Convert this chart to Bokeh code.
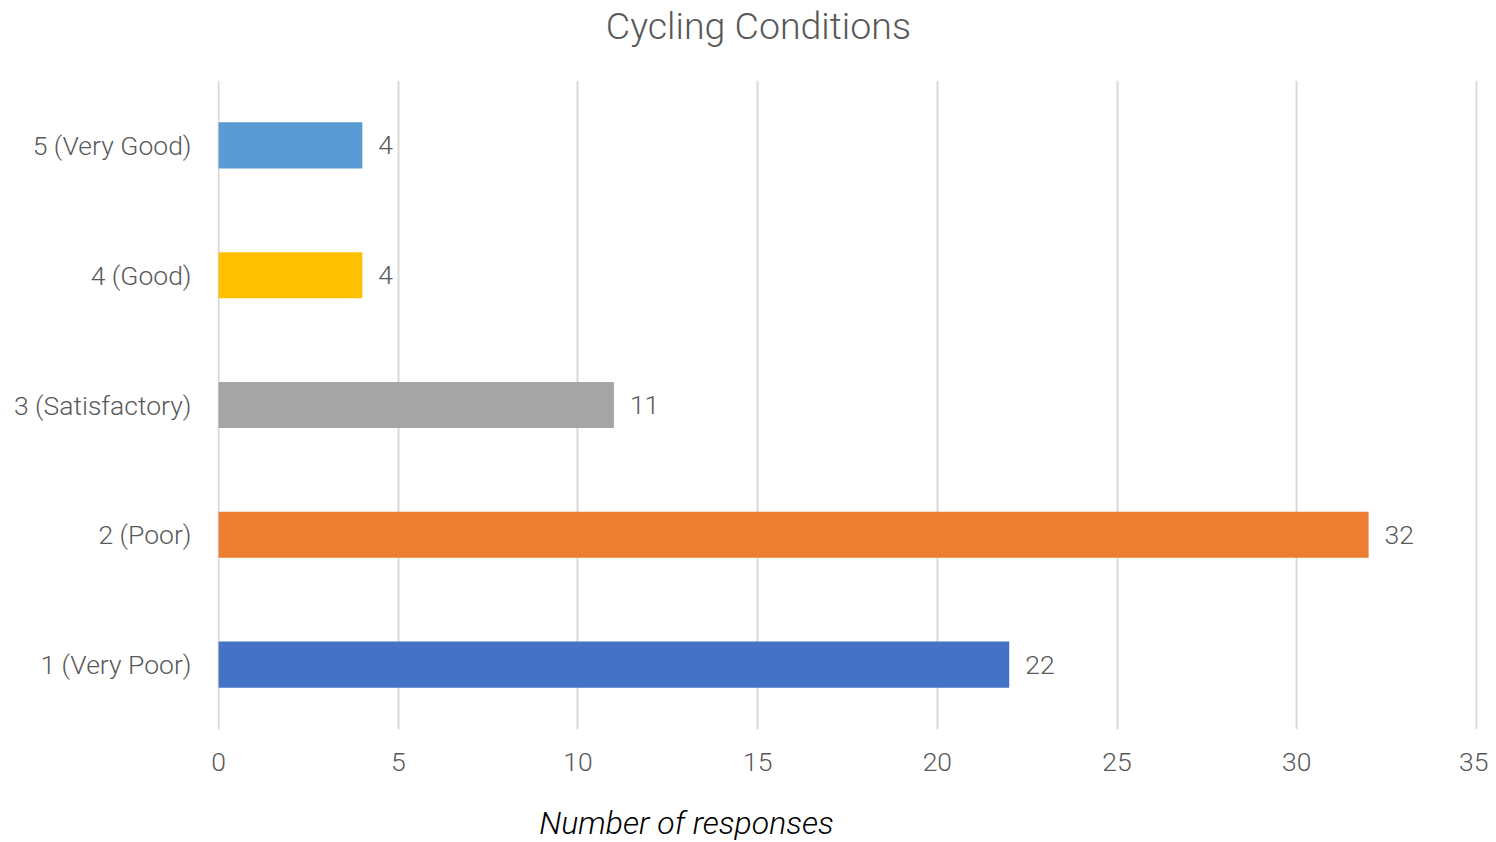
from bokeh.plotting import figure
from bokeh.layouts import column
from bokeh.models import ColumnDataSource, LabelSet, Label, Range1d, FactorRange
from bokeh.core.properties import value
from bokeh.embed import file_html
from bokeh.resources import INLINE

categories = ["1 (Very Poor)", "2 (Poor)", "3 (Satisfactory)", "4 (Good)", "5 (Very Good)"]
responses = [22, 32, 11, 4, 4]
colors = ["#4472C4", "#ED7D31", "#A5A5A5", "#FFC000", "#5B9BD5"]
x_ticks = [0, 5, 10, 15, 20, 25, 30, 35]
title_text = "Cycling Conditions"
x_label_text = "Number of responses"

FONT = "Roboto Light"
GREY = "#595959"
TICK_SIZE = "26.5px"
W = 1488
BL, BR = 217, 11

x_range = Range1d(-0.03, 35.03)

src = ColumnDataSource(dict(
    cat=categories,
    val=responses,
    color=colors,
    label=[str(v) for v in responses],
))


def text_strip(height):
    f = figure(x_range=x_range, y_range=Range1d(0, 1), width=W, height=height,
               output_backend="svg", toolbar_location=None,
               x_axis_type=None, y_axis_type=None,
               min_border_left=BL, min_border_right=BR,
               min_border_top=0, min_border_bottom=0)
    f.outline_line_color = None
    f.xgrid.visible = False
    f.ygrid.visible = False
    return f


# title strip
top = text_strip(80)
top.add_layout(Label(x=15.02, y=55, x_units="data", y_units="screen",
                     text=title_text, text_align="center", text_baseline="middle",
                     text_font=FONT, text_font_size="37.5px", text_color=GREY))

# main chart
p = figure(
    y_range=FactorRange(*categories, range_padding=0),
    x_range=x_range,
    width=W, height=709,
    output_backend="svg", toolbar_location=None,
    min_border_left=BL, min_border_right=BR,
    min_border_top=0, min_border_bottom=60,
)
p.outline_line_color = None

p.hbar(y="cat", left=0, right="val", height=0.355, fill_color="color",
       line_color=None, source=src)

p.add_layout(LabelSet(x="val", y="cat", text="label", source=src, x_offset=16,
                      text_baseline="middle", text_align="left",
                      text_font_size=TICK_SIZE, text_color=GREY,
                      text_font=value(FONT)))

p.xaxis.ticker = x_ticks
for ax in (p.xaxis[0], p.yaxis[0]):
    ax.axis_line_color = None
    ax.major_tick_line_color = None
    ax.minor_tick_line_color = None
    ax.major_label_text_font = FONT
    ax.major_label_text_font_size = TICK_SIZE
    ax.major_label_text_color = GREY
p.xaxis.major_label_standoff = 17
p.yaxis.major_label_standoff = 20

p.ygrid.grid_line_color = None
p.xgrid.grid_line_color = "#D9D9D9"
p.xgrid.grid_line_width = 2

# axis-title strip
bottom = text_strip(53)
bottom.add_layout(Label(x=13.02, y=20, x_units="data", y_units="screen",
                        text=x_label_text, text_align="center", text_baseline="middle",
                        text_font=FONT, text_font_size="32px",
                        text_font_style="italic", text_color="#000000"))

layout = column(top, p, bottom, spacing=0)
open("out.html", "w").write(file_html(layout, INLINE))
